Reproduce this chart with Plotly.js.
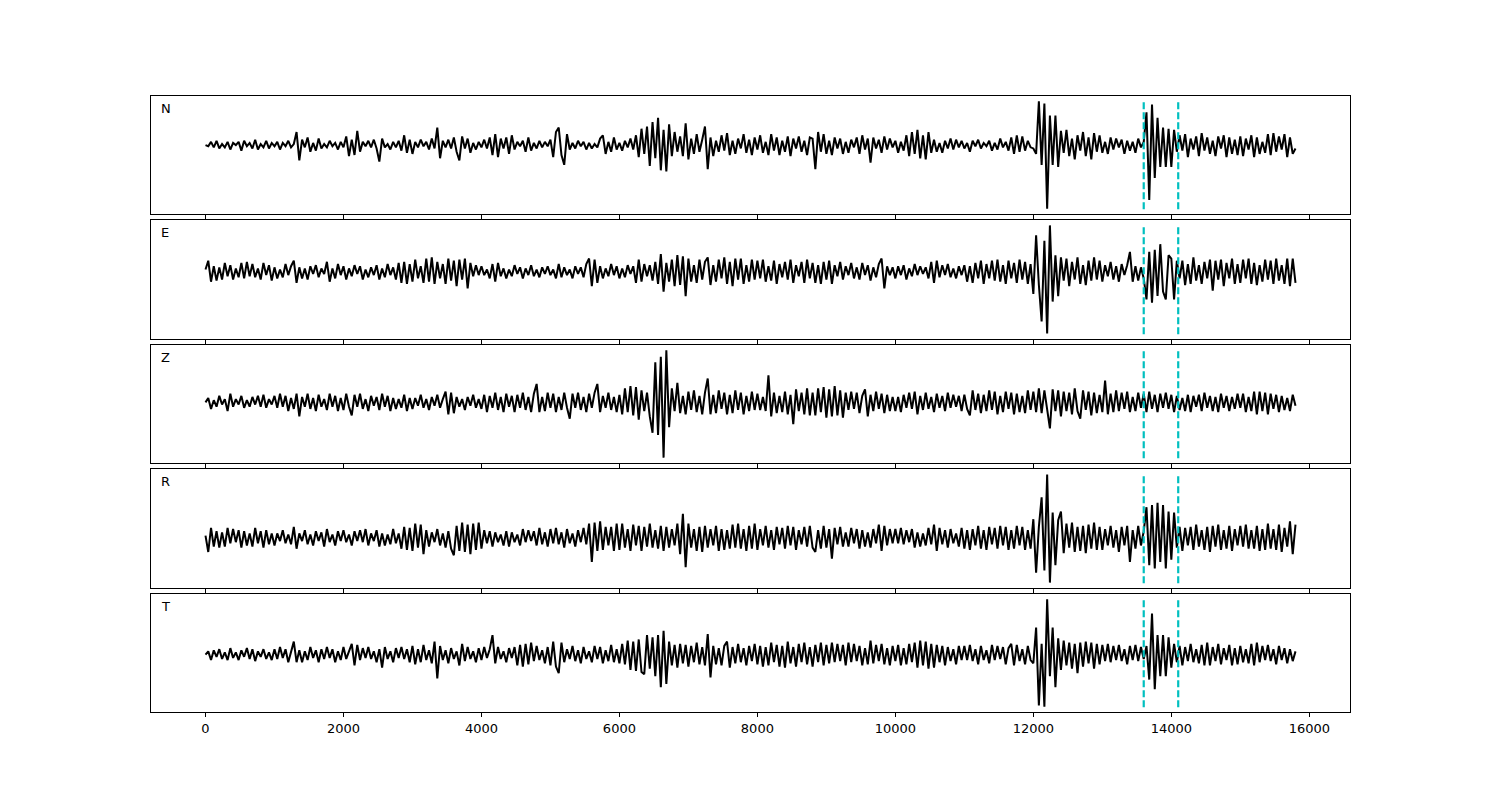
<!DOCTYPE html>
<html>
<head>
<meta charset="utf-8">
<script src="https://cdn.plot.ly/plotly-3.0.1.min.js"></script>
<style>html,body{margin:0;padding:0;background:#fff;}#chart{width:1500px;height:800px;}</style>
</head>
<body>
<div id="chart"></div>
<script>
// Component names (top to bottom)
const components = ["N", "E", "Z", "R", "T"];
// Sample spacing and block length (x units)
const sampleStep = 40;
const blockLength = 1000;
// Pick window (vertical dashed lines)
const pickLines = [13600, 14100];
const xTicks = [0, 2000, 4000, 6000, 8000, 10000, 12000, 14000, 16000];

// Amplitudes, one row per 1000-unit block
const traceN = [
 [0,-1,3,-2,4,-3,1,-2,3,-4,2,0,3,-5,4,-1,2,-3,5,-4,1,-2,4,-3,2],
 [-1,3,-4,2,-1,4,-2,1,12,-14,5,-2,7,-6,2,-5,6,-3,1,-2,4,-1,2,-4,3],
 [-2,8,-10,5,-9,13,-6,3,-1,4,-2,5,-3,-15,6,-2,1,-4,3,-2,4,-5,9,-7,5],
 [-8,3,-2,5,-1,3,-4,6,-3,16,-12,4,-2,5,-3,7,-6,-14,8,-3,6,-7,2,-4,3],
 [-2,5,-3,7,-9,10,-11,6,-3,7,-8,9,-4,3,-1,4,-6,7,-5,2,-3,4,-2,3,-1],
 [5,-11,12,16,-9,-18,10,-4,2,-3,4,-1,3,-4,2,-3,1,-2,6,9,-8,3,-6,7,-4],
 [2,-5,4,-2,6,-4,9,-11,15,-8,17,-19,21,-12,25,-23,14,-24,19,-10,12,-6,8,-10,20],
 [-13,6,-8,10,-6,5,17,-22,7,-10,4,-6,9,-5,11,-9,4,-8,6,-3,10,-7,5,-9,7],
 [-4,9,-7,3,-9,10,-5,7,-9,4,-6,8,-10,6,-3,8,-6,4,-9,7,6,-22,12,-6,10],
 [-8,4,-9,7,-3,6,-8,3,-7,5,-2,7,-8,9,-4,6,-16,7,-3,5,-7,8,-4,6,-2],
 [4,-7,3,-5,9,-10,12,-8,14,-12,9,-13,12,-7,5,-6,2,-7,4,-3,6,-4,5,-2,4],
 [-3,2,-6,4,-1,5,-3,2,-1,4,-5,2,-4,6,-2,3,-5,7,-8,9,-6,8,-5,4,-2],
 [-3,-8,40,-18,38,-58,27,-18,27,-20,13,-7,14,-10,6,-13,9,-5,12,-10,7,-13,11,-6,9],
 [-7,3,-8,7,-4,6,-2,5,-8,4,-5,3,-7,6,-2,3,30,-50,37,-30,25,-20,16,-20,15],
 [-20,14,-6,9,-5,10,-11,6,-4,8,-10,11,-5,7,-8,4,-10,8,-3,9,-11,7,-8,5,-9],
 [8,-10,6,-4,9,-11,7,-8,3,-7,10,-9,11,-6,8,-4,10,-11,7,-8,-3]
];
const traceE = [
 [2,10,-9,5,-8,4,-7,8,-4,6,-7,3,-5,8,-6,9,-4,7,-5,3,-7,8,-3,6,-8],
 [4,-6,2,-5,7,-3,5,10,-10,4,-6,3,-7,5,-2,6,-5,3,-2,9,-9,3,-6,7,-3],
 [5,-7,3,-4,6,-2,5,-7,2,-5,4,-3,6,-7,3,-5,7,-3,4,-7,8,-10,9,-11,7],
 [-9,11,-6,5,-10,12,-9,13,-11,9,-6,7,-11,12,-8,10,-13,11,-7,12,-15,8,-4,6,-3],
 [5,-3,2,-6,7,-9,8,-4,3,-6,2,-4,6,-2,4,-6,3,-3,6,-4,2,-5,4,-2,5],
 [-3,2,-6,7,-5,4,-3,2,-6,5,-2,4,-5,7,12,-13,11,-10,5,-6,3,-4,7,-3,5],
 [-6,3,-5,6,-2,5,-10,11,-9,7,-4,6,-8,9,-11,16,-18,8,-9,11,-13,15,-12,14,-22],
 [12,-9,6,-10,11,-7,9,13,-12,6,-9,11,-6,13,-11,9,-13,12,-7,12,-11,6,-9,11,-7],
 [10,-6,11,-9,5,-8,10,-11,7,-5,9,-7,11,-10,6,-4,9,-10,11,-6,8,-10,6,-11,9],
 [-7,10,-11,6,-4,9,-7,5,-3,8,-6,4,-7,8,-3,6,-8,4,-5,7,12,-15,5,-3,4],
 [-6,5,-3,6,-7,3,-4,7,-3,5,-2,4,-6,9,-10,10,-5,6,-3,7,-5,3,-6,5,-3],
 [6,-9,5,-10,8,-6,10,-11,7,-6,10,-8,11,-9,6,-11,10,-6,8,-10,11,-7,9,-11,7],
 [-20,33,-12,-45,28,-56,42,-27,15,-22,13,-8,12,-13,9,-7,13,-11,6,-12,10,-8,13,-7,10],
 [-9,6,-4,9,-7,5,-9,7,-3,6,18,-9,5,-8,4,-6,-25,18,-28,20,-22,25,-18,-25,15],
 [12,-25,10,-6,10,-12,7,-11,13,-8,6,-11,9,-6,11,-17,10,-7,11,-13,8,-6,12,-11,7],
 [-10,11,-6,12,-11,8,-12,6,-9,11,-7,10,-11,12,-8,6,-11,12,-13,12,-10]
];
const traceZ = [
 [0,4,-6,2,-4,6,-2,3,-8,8,-4,3,-2,6,-5,2,-4,5,-2,6,-4,7,-5,3,-2],
 [6,-5,8,-4,6,-8,4,-6,8,-13,5,-4,8,-6,4,-8,7,-4,3,-7,8,-4,6,-8,4],
 [-7,8,-4,-12,7,-4,8,-6,3,-8,6,-3,5,-7,8,-4,6,-8,4,-6,3,-5,7,-8,4],
 [-6,4,-3,7,-5,3,-7,5,-3,7,-5,3,10,-11,9,-10,5,-4,3,-7,5,-3,7,-5,3],
 [-6,7,-9,6,-5,9,-7,5,-9,8,-4,6,-9,7,-5,9,-7,5,-9,8,17,-9,5,-8,9],
 [-5,8,-9,5,-7,9,-5,-15,8,-5,9,-7,5,-9,8,-5,9,17,-9,6,-5,9,-7,5,-9],
 [7,-11,13,-9,15,-12,14,-16,11,-8,9,-13,-28,37,-30,42,-51,48,-23,13,-8,18,-10,6,-11],
 [10,-7,11,-9,6,-11,9,22,-11,7,-10,11,-6,9,-11,7,-10,11,-7,9,-11,6,-8,10,-7],
 [8,-7,5,-8,25,-13,9,-10,6,-9,10,-11,7,-20,12,-8,9,-11,13,-12,9,-12,13,-9,14],
 [-14,12,-13,15,-12,11,-14,9,-7,10,-6,9,-10,6,12,-13,7,-8,10,-6,8,-10,7,-8,5],
 [-8,5,-9,7,-5,9,-6,10,-11,6,-7,9,-6,5,-9,8,-5,6,-8,9,-5,7,-4,6,-8],
 [7,-6,-12,11,-7,8,-10,7,-8,11,-7,10,-11,6,-9,10,-6,9,-11,8,-9,6,-10,11,-7],
 [10,-9,13,-10,11,-7,-24,12,-8,11,-13,10,-8,9,-11,13,-8,-15,11,-7,10,-12,9,-10,7],
 [-9,20,-11,8,-9,11,-8,9,-6,10,-9,5,-8,9,-5,8,-9,10,-6,7,-9,8,-5,9,-6],
 [7,-9,6,-7,4,-8,7,-9,6,-4,7,-8,9,-5,6,-8,5,-9,8,-5,6,-8,5,-6,8],
 [-5,8,-9,5,-8,10,-11,10,-8,9,-11,8,-6,7,-9,6,-7,4,-8,7,-3]
];
const traceR = [
 [2,-13,9,-8,6,-9,5,-8,9,-5,8,-4,7,-9,6,-7,4,-8,9,-5,6,-9,7,-6,4],
 [-7,4,-3,7,-5,3,-6,10,-10,4,-3,7,-6,3,-7,6,-3,5,-8,8,-4,3,-7,6,-3],
 [7,-4,3,-7,6,-3,7,-4,8,-7,4,-3,7,-8,4,-7,3,-6,8,-5,4,-10,10,-11,9],
 [-12,13,-9,12,-15,7,-8,5,-4,8,-7,4,-9,6,-10,-16,11,-12,14,-13,12,-15,13,-11,14],
 [-10,7,-5,6,-8,5,-4,3,-7,6,-8,5,-4,3,-7,8,-4,7,-3,6,-7,9,-6,5,-8],
 [8,-5,9,-6,5,-9,8,-5,4,-8,7,-4,9,-6,13,-22,14,-12,15,-11,10,-7,10,-12,13],
 [-11,13,-9,8,-12,12,-7,11,-12,10,-8,13,-9,7,-10,11,-12,10,-9,8,-7,13,-15,22,-27],
 [13,-9,8,-12,10,-13,11,-9,8,-7,11,-12,8,-11,7,-10,12,-9,13,-10,8,-12,11,-10,13],
 [-11,8,-7,11,-9,7,-11,10,-6,9,-10,11,-7,10,-11,7,-6,10,-8,11,-9,-13,7,-10,11],
 [-9,8,-19,9,-6,10,-8,5,-8,9,-5,8,-10,7,-8,5,-9,8,-5,12,-12,11,-7,8,-5],
 [8,-5,9,-6,7,-4,8,-9,5,-8,4,-7,9,-6,12,-12,9,-6,7,-9,8,-5,4,-8,9],
 [-10,7,-11,8,-7,11,-10,7,-11,10,-6,9,-10,11,-7,10,-11,7,-10,11,-7,10,-11,7,-10],
 [17,-32,10,37,-30,58,-41,23,-25,16,24,-14,13,-9,14,-13,10,-12,11,-14,12,-10,14,-11,10],
 [-11,8,-7,11,-9,7,-13,10,-7,11,-22,7,-10,11,-7,6,28,-25,30,-28,32,-22,30,-28,24],
 [-20,23,-9,10,-12,9,-7,10,-11,12,-8,7,-11,10,-13,11,-8,12,-11,7,-10,11,-12,8,-7],
 [11,-8,12,-10,7,-10,11,-12,8,-11,13,-10,8,-11,12,-13,9,-8,15,-15,12]
];
const traceT = [
 [0,3,-5,4,-2,5,-4,2,-5,6,-3,2,-5,4,-2,6,-4,5,-6,3,-2,5,-4,2,-5],
 [5,-4,7,-3,5,-7,3,12,-7,4,-7,3,-5,7,-3,4,-7,5,-4,7,-3,5,-7,3,-5],
 [7,-4,3,10,-10,9,-5,6,-3,7,-4,3,-7,5,-12,7,-4,3,-7,6,-3,7,-4,5,-7],
 [8,-9,5,-7,9,-5,4,-8,12,-22,8,-5,4,-8,6,-4,3,-10,10,-6,7,-4,3,-7,6],
 [-5,7,-3,5,18,-8,7,-4,3,-7,6,-3,7,-10,9,-11,10,-9,11,-6,8,-5,4,-8,7],
 [-10,12,-11,-17,11,-7,5,-4,8,-6,4,-8,7,-4,3,-7,8,-4,7,-8,4,-6,9,-7,5],
 [-8,10,-9,13,-14,12,-15,14,-16,-18,18,-13,16,-20,18,-30,22,-27,12,-10,9,-12,10,-8,9],
 [-11,8,-7,11,-9,7,-10,19,-21,8,-9,6,-10,8,12,-12,7,-8,10,-7,6,-10,8,-6,10],
 [-9,8,-11,7,-10,11,-7,9,-11,8,-12,12,-8,7,-11,10,-7,11,-9,7,-11,9,-7,11,-10],
 [9,-8,11,-7,10,-6,9,-10,11,-7,10,-6,8,-10,6,-9,13,-8,9,-6,10,-9,6,-10,8],
 [-6,9,-10,6,-9,10,-7,11,-12,13,-10,12,-13,10,-12,9,-7,8,-10,7,-6,5,-9,8,-5],
 [8,-5,9,-6,5,-9,8,-5,4,-8,9,-5,8,-4,7,-9,6,10,-10,9,-6,5,-9,8,-5],
 [-8,25,-47,10,-48,51,-20,25,-30,15,-14,13,-10,11,-13,10,-17,11,-11,12,-8,11,-13,10,-9],
 [9,-6,10,-7,8,-5,9,-6,5,-9,8,-5,9,-6,7,-4,8,-23,38,-32,18,-20,18,-20,16],
 [-12,10,-7,8,-10,7,-6,10,-7,5,-8,9,-10,11,-10,7,-6,10,-9,6,-5,9,-10,6,-9],
 [8,-7,5,-8,10,-10,11,-7,8,-5,9,-6,5,-9,8,-5,6,-8,5,-6,3]
];

const traces = [traceN, traceE, traceZ, traceR, traceT];

// Panel pixel bounds (top, bottom) inside a 800px tall figure
const plotTop = 96, plotBottom = 712;
const panels = [[96,214],[220,339],[345,463],[469,588],[594,712]];
const H = plotBottom - plotTop;

const data = [];
const layout = {
  width: 1500, height: 800,
  margin: {l: 151, r: 150, t: 96, b: 88, pad: 0},
  paper_bgcolor: "#ffffff", plot_bgcolor: "#ffffff",
  showlegend: false,
  font: {family: "DejaVu Sans, sans-serif", size: 13, color: "#000"},
  shapes: [], annotations: []
};

traces.forEach((blocks, k) => {
  const xs = [], ys = [];
  blocks.forEach((row, b) => {
    row.forEach((v, j) => { xs.push(b * blockLength + j * sampleStep); ys.push(v); });
  });
  const n = k + 1;
  const xa = n === 1 ? "x" : "x" + n;
  const ya = n === 1 ? "y" : "y" + n;
  data.push({x: xs, y: ys, type: "scatter", mode: "lines", xaxis: xa, yaxis: ya,
             line: {color: "#000000", width: 2}, hoverinfo: "skip"});
  const mn = Math.min(...ys), mx = Math.max(...ys), pad = (mx - mn) * 0.05;
  const [pt, pb] = panels[k];
  const xKey = n === 1 ? "xaxis" : "xaxis" + n;
  const yKey = n === 1 ? "yaxis" : "yaxis" + n;
  layout[xKey] = {
    domain: [0, 1], range: [-790, 16590], anchor: ya,
    matches: n === 1 ? undefined : "x",
    tickmode: "array", tickvals: xTicks, ticktext: xTicks.map(String),
    ticks: "outside", ticklen: 4, tickwidth: 1, tickcolor: "#000",
    showticklabels: n === 5, showgrid: false, zeroline: false,
    showline: true, mirror: true, linecolor: "#000", linewidth: 1,
    tickfont: {family: "DejaVu Sans, sans-serif", size: 13, color: "#000"}
  };
  layout[yKey] = {
    domain: [(plotBottom - pb) / H, (plotBottom - pt) / H],
    range: [mn - pad, mx + pad], anchor: xa,
    showticklabels: false, ticks: "", showgrid: false, zeroline: false,
    showline: true, mirror: true, linecolor: "#000", linewidth: 1
  };
  pickLines.forEach(px => {
    layout.shapes.push({type: "line", xref: xa, yref: ya + " domain", x0: px, x1: px, y0: 0.04, y1: 0.96,
      line: {color: "#00BFBF", width: 2.2, dash: "7px,3px"}});
  });
  layout.annotations.push({text: components[k], xref: "paper", yref: ya + " domain",
    x: 0.007, y: 0.975, xanchor: "left", yanchor: "top", showarrow: false,
    font: {family: "DejaVu Sans, sans-serif", size: 13, color: "#000"}});
});

Plotly.newPlot("chart", data, layout, {displayModeBar: false, staticPlot: true});
</script>
</body>
</html>
